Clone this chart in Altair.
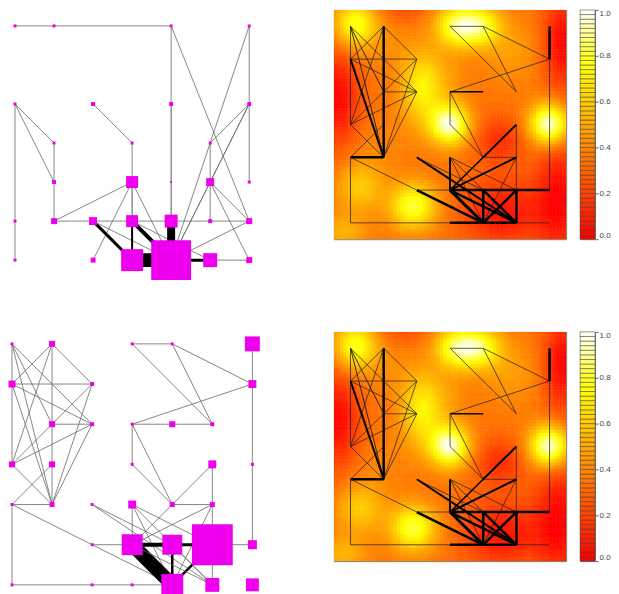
import colorsys
import numpy as np
import pandas as pd
import altair as alt

# ---------------- data ----------------
# top-left network: nodes (col, row, weight)
tl_nodes = [
    (1, 1, 3), (2, 1, 3), (5, 1, 3), (7, 1, 3),
    (1, 3, 3), (3, 3, 4), (5, 3, 4), (7, 3, 4),
    (2, 4, 3), (4, 4, 3), (6, 4, 3),
    (2, 5, 4), (4, 5, 12), (5, 5, 2), (6, 5, 8), (7, 5, 3),
    (1, 6, 3), (2, 6, 6), (3, 6, 8), (4, 6, 12), (5, 6, 13), (6, 6, 4), (7, 6, 6),
    (1, 7, 3), (3, 7, 5), (4, 7, 22), (5, 7, 40), (6, 7, 14), (7, 7, 6),
]
# top-left network: edges (col1, row1, col2, row2, weight)
tl_edges = [
    (1, 1, 2, 1, 0.8), (2, 1, 5, 1, 0.8), (5, 1, 5, 3, 0.8), (5, 3, 5, 6, 1.1),
    (5, 1, 7, 6, 0.8), (7, 1, 7, 3, 0.8), (7, 3, 7, 5, 0.8), (7, 1, 5, 7, 0.8),
    (7, 3, 6, 4, 0.8), (7, 3, 6, 5, 0.8), (7, 3, 5, 7, 0.8), (6, 4, 6, 6, 0.8),
    (6, 5, 7, 6, 0.8), (6, 5, 7, 7, 0.8), (6, 5, 5, 7, 0.8), (5, 7, 7, 6, 0.8),
    (1, 3, 2, 4, 0.8), (1, 3, 2, 5, 0.8), (1, 3, 1, 7, 0.8), (2, 4, 2, 6, 0.8),
    (3, 3, 4, 4, 0.8), (4, 4, 4, 5, 0.8), (4, 5, 2, 6, 0.8), (4, 5, 4, 6, 1.1),
    (4, 5, 3, 7, 0.8), (4, 5, 5, 7, 0.8), (2, 6, 7, 6, 0.8), (3, 6, 4, 7, 3),
    (3, 6, 5, 7, 0.8), (4, 6, 4, 7, 2), (4, 6, 5, 7, 4), (4, 6, 6, 7, 0.8),
    (5, 6, 5, 7, 8), (4, 7, 5, 7, 14), (5, 7, 6, 7, 3), (6, 7, 7, 7, 0.8),
]
# bottom-left network: nodes (col, row, weight)
bl_nodes = [
    (1, 1, 3), (2, 1, 6), (4, 1, 3), (5, 1, 3), (7, 1, 15),
    (1, 2, 7), (3, 2, 4), (7, 2, 8),
    (2, 3, 6), (3, 3, 4), (4, 3, 3), (5, 3, 6), (6, 3, 4),
    (1, 4, 6), (2, 4, 6), (4, 4, 3), (6, 4, 8), (7, 4, 3),
    (1, 5, 3), (2, 5, 5), (3, 5, 3), (4, 5, 8), (5, 5, 5), (6, 5, 5),
    (3, 6, 3), (4, 6, 21), (5, 6, 20), (6, 6, 41), (7, 6, 9),
    (1, 7, 3), (3, 7, 3), (4, 7, 3), (5, 7, 22), (6, 7, 14), (7, 7, 13),
]
# second network edges (col1, row1, col2, row2, weight in bottom-left plot, weight over heat map)
net_edges = [
    (1, 1, 1, 2, 0.8, 0.7), (1, 2, 1, 4, 0.8, 0.7), (2, 1, 2, 5, 0.8, 2.5),
    (1, 2, 3, 2, 0.8, 0.7), (2, 3, 3, 3, 0.8, 0.7), (1, 1, 2, 3, 0.8, 0.9),
    (1, 1, 3, 3, 0.8, 0.7), (1, 1, 2, 5, 0.8, 0.9), (2, 1, 1, 2, 0.8, 0.7),
    (2, 1, 1, 4, 0.8, 0.7), (2, 1, 3, 2, 0.8, 0.7), (1, 2, 3, 3, 0.8, 0.7),
    (1, 2, 2, 5, 0.8, 2.0), (3, 2, 1, 4, 0.8, 0.7), (3, 2, 2, 5, 0.8, 0.7),
    (3, 3, 1, 4, 0.8, 0.7), (3, 3, 2, 5, 0.8, 0.7), (1, 4, 2, 5, 0.8, 0.7),
    (2, 4, 1, 5, 0.8, 0.7), (1, 5, 2, 5, 0.8, 2.5), (1, 5, 1, 7, 0.8, 0.7),
    (1, 5, 3, 6, 0.8, 0.7), (3, 6, 5, 7, 0.8, 2.5), (1, 7, 4, 7, 0.8, 0.7),
    (4, 7, 5, 7, 0.8, 2.5), (5, 7, 6, 7, 0, 2.5), (6, 7, 7, 7, 0, 0.7),
    (4, 1, 5, 1, 0.8, 0.7), (4, 1, 6, 3, 0.8, 0.7), (5, 1, 6, 3, 0.8, 0.7),
    (5, 1, 7, 2, 0.8, 0.7), (7, 1, 7, 2, 0.8, 2.5), (7, 2, 7, 6, 0.8, 0.7),
    (7, 2, 4, 3, 0.8, 0.7), (4, 3, 5, 3, 0.8, 1.5), (5, 3, 6, 3, 0.8, 0),
    (4, 3, 4, 4, 0.8, 0.7), (4, 3, 5, 5, 0.8, 0.7), (4, 4, 5, 5, 0.8, 0.7),
    (5, 5, 6, 4, 0.8, 2.0), (5, 5, 6, 5, 0.8, 0.7), (6, 4, 6, 5, 0.8, 0.7),
    (6, 5, 6, 6, 0.8, 0.7), (5, 5, 4, 6, 0.8, 1.5), (3, 5, 6, 7, 0.8, 2.0),
    (3, 5, 5, 6, 0.8, 0.7), (4, 5, 4, 6, 0.8, 2.0), (4, 5, 6, 6, 0.8, 0.7),
    (4, 5, 5, 7, 0.8, 0.7), (4, 5, 6, 7, 0.8, 0.7), (6, 5, 4, 6, 0.8, 2.0),
    (6, 5, 5, 7, 0.8, 0.7), (3, 6, 4, 6, 0.8, 0.7), (4, 6, 5, 6, 4, 2.5),
    (5, 6, 6, 6, 3, 2.5), (6, 6, 7, 6, 0.8, 2.5), (4, 6, 5, 7, 14, 3),
    (5, 6, 5, 7, 2.5, 2.5), (5, 7, 6, 6, 2.5, 2.5), (4, 6, 6, 7, 0.8, 2.5),
    (6, 6, 6, 7, 0.8, 2.5), (5, 6, 6, 7, 0.8, 2.5),
]
# heat-map hot spots (col, row, amplitude, spread col, spread row)
hot_c = [1.15, 4.2, 4.95, 4.0, 7.0, 2.9, 3.15, 1.3, 2.1, 5.9, 0.8, 2.0, 0.6, 7.4, 7.3, 5.5, 5.6, 2.6, 3.9]
hot_r = [0.95, 1.0, 1.0, 4.0, 4.0, 6.5, 2.9, 5.9, 1.6, 1.8, 7.3, 4.6, 3.2, 1.5, 6.3, 4.5, 6.7, 0.5, 2.5]
hot_amp = [0.45, 0.48, 0.42, 0.62, 0.66, 0.48, 0.36, 0.26, 0.06, 0.12, 0.18, 0.05,
           -0.32, -0.32, -0.32, -0.2, -0.28, -0.1, 0.08]
hot_sc = [0.45, 0.45, 0.45, 0.42, 0.42, 0.5, 0.45, 0.5, 0.6, 0.6, 0.5, 0.6, 0.45, 0.4, 0.5, 0.5, 0.8, 0.5, 0.5]
hot_sr = [0.5, 0.45, 0.45, 0.45, 0.45, 0.5, 0.8, 0.55, 0.6, 0.7, 0.4, 0.6, 1.0, 1.0, 1.2, 0.5, 0.7, 0.3, 0.6]
heat_base = 0.34
color_ticks = [0.0, 0.2, 0.4, 0.6, 0.8, 1.0]
n_levels = 50


# ---------------- helpers ----------------
def heat_colors(n):
    j = n // 4
    i = n - j
    cols = []
    for k in range(i):
        h = (k / (i - 1)) * (1 / 6)
        cols.append(colorsys.hsv_to_rgb(h, 1, 1))
    s0, s1 = 1 - 1 / (2 * j), 1 / (2 * j)
    for k in range(j):
        s = s0 + k * (s1 - s0) / (j - 1)
        cols.append(colorsys.hsv_to_rgb(1 / 6, s, 1))
    return ["#%02x%02x%02x" % tuple(int(round(c * 255)) for c in rgb) for rgb in cols]


palette = heat_colors(n_levels)
qscale = alt.Scale(type="quantize", domain=[0, 1], range=palette)
no_frame = alt.ViewBackground(stroke="transparent", strokeWidth=0)
frame = alt.ViewBackground(stroke="#777777", strokeWidth=1)


def edge_layer(edf, xs, ys, thin_color, thick_color):
    return alt.Chart(edf).mark_rule(strokeCap="butt").encode(
        x=alt.X("c1:Q", scale=xs, axis=None),
        y=alt.Y("r1:Q", scale=ys, axis=None),
        x2="c2:Q",
        y2="r2:Q",
        strokeWidth=alt.StrokeWidth("w:Q", scale=None, legend=None),
        color=alt.condition("datum.w < 1.2", alt.value(thin_color), alt.value(thick_color)),
    )


def network(nodes, edf, w, h, xdom, ydom):
    nd = pd.DataFrame(nodes, columns=["c", "r", "wt"])
    xs = alt.Scale(domain=xdom, nice=False, zero=False)
    ys = alt.Scale(domain=ydom, nice=False, zero=False, reverse=True)
    e = edge_layer(edf, xs, ys, "#686868", "#000000")
    n = alt.Chart(nd).transform_calculate(area="datum.wt*datum.wt").mark_square(
        color="#ee00ee", opacity=1, strokeWidth=0
    ).encode(
        x=alt.X("c:Q", scale=xs, axis=None),
        y=alt.Y("r:Q", scale=ys, axis=None),
        size=alt.Size("area:Q", scale=None, legend=None),
    )
    return alt.layer(e, n).properties(width=w, height=h, view=no_frame)


# heat field on a fine grid
ng = 70
step = 7.0 / ng
g = 0.5 + np.arange(ng) * step
GX, GY = np.meshgrid(g, g)
CX, CY = GX + step / 2, GY + step / 2
V = np.full_like(CX, heat_base)
for c, r, a, sc, sr in zip(hot_c, hot_r, hot_amp, hot_sc, hot_sr):
    V += a * np.exp(-((CX - c) ** 2 / (2 * sc ** 2) + (CY - r) ** 2 / (2 * sr ** 2)))
V = np.clip(V, 0, 0.999)
field = pd.DataFrame({"x0": GX.ravel().round(3), "y0": GY.ravel().round(3), "v": V.ravel().round(3)})


def heatmap(w, h):
    xs = alt.Scale(domain=[0.5, 7.5], nice=False, zero=False)
    ys = alt.Scale(domain=[0.5, 7.5], nice=False, zero=False, reverse=True)
    rect = alt.Chart(field).transform_calculate(
        x1="datum.x0 + %f" % step, y1="datum.y0 + %f" % step
    ).mark_rect(clip=True, strokeWidth=0.6).encode(
        x=alt.X("x0:Q", scale=xs, axis=None),
        x2="x1:Q",
        y=alt.Y("y0:Q", scale=ys, axis=None),
        y2="y1:Q",
        fill=alt.Fill("v:Q", scale=qscale, legend=None),
        stroke=alt.Stroke("v:Q", scale=qscale, legend=None),
    )
    edf = pd.DataFrame([e[:4] + (e[5],) for e in net_edges], columns=["c1", "r1", "c2", "r2", "w"])
    edf = edf[edf.w > 0]
    e = edge_layer(edf, xs, ys, "#1a1a1a", "#000000")
    return alt.layer(rect, e).properties(width=w, height=h, view=frame)


def colorbar(h):
    lv = np.arange(n_levels)
    cb = pd.DataFrame({"lo": lv / n_levels, "hi": (lv + 1) / n_levels, "mid": (lv + 0.5) / n_levels})
    return alt.Chart(cb).mark_rect(stroke="#3a3a3a", strokeWidth=0.5).encode(
        y=alt.Y(
            "lo:Q",
            scale=alt.Scale(domain=[0, 1], nice=False, zero=False),
            axis=alt.Axis(
                orient="right", values=color_ticks, format=".1f", tickSize=3,
                labelFontSize=8, labelColor="#444444", tickColor="#666666",
                domain=False, grid=False, labelPadding=1, labelFlush=True, title=None,
            ),
        ),
        y2="hi:Q",
        fill=alt.Fill("mid:Q", scale=qscale, legend=None),
    ).properties(width=15, height=h, view=frame)


tl_edf = pd.DataFrame(tl_edges, columns=["c1", "r1", "c2", "r2", "w"])
bl_edf = pd.DataFrame([e[:5] for e in net_edges], columns=["c1", "r1", "c2", "r2", "w"])
bl_edf = bl_edf[bl_edf.w > 0]

tl = network(tl_nodes, tl_edf, 305, 290, [0.821, 8.608], [0.5915, 7.996])
bl = network(bl_nodes, bl_edf, 305, 264, [0.9005, 8.4875], [0.702, 7.253])


def heat_block():
    return alt.hconcat(heatmap(233, 230), colorbar(230), spacing=14, bounds="flush")


row1 = alt.hconcat(tl, heat_block(), spacing=21)
row2 = alt.hconcat(bl, heat_block(), spacing=21)

chart = alt.vconcat(row1, row2, spacing=32).properties(
    padding={"left": 0, "top": 0, "right": 0, "bottom": 0}
).configure_view(stroke="transparent", strokeWidth=0).configure(font="Liberation Sans")

chart.save("out.html", embed_options={"renderer": "svg", "actions": False})
